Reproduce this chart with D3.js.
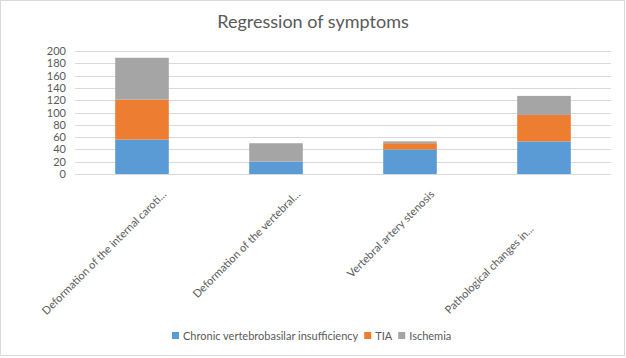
<!DOCTYPE html>
<html>
<head>
<meta charset="utf-8">
<script src="https://cdn.jsdelivr.net/npm/d3@7"></script>
<style>
  body { margin: 0; background: #fff; }
  text { font-family: "Lato", "Liberation Sans", sans-serif; fill: #595959; }
</style>
</head>
<body>
<div id="chart"></div>
<script>
// data
const categories = [
  "Deformation of the internal caroti...",
  "Deformation of the vertebral...",
  "Vertebral artery stenosis",
  "Pathological changes in..."
];
const seriesNames = ["Chronic vertebrobasilar insufficiency", "TIA", "Ischemia"];
const chronic = [56, 20, 40, 53];
const tia = [65, 0, 10, 43];
const ischemia = [68, 30, 3, 31];
const yTicks = [0, 20, 40, 60, 80, 100, 120, 140, 160, 180, 200];
const colors = ["#5b9bd5", "#ed7d31", "#a5a5a5"];

const W = 626, H = 358;
const margin = {top: 51, right: 15, bottom: 184, left: 75},
  width = 611 - margin.left,
  height = 174 - margin.top;

const root = d3.select("#chart")
  .append("svg")
  .attr("width", W)
  .attr("height", H);

// chart border
root.append("rect")
  .attr("x", 0.5).attr("y", 0.5)
  .attr("width", 624).attr("height", 355)
  .attr("fill", "#fff")
  .attr("stroke", "#d9d9d9");

root.append("text")
  .attr("x", 313).attr("y", 28)
  .attr("text-anchor", "middle")
  .style("font-size", "18px")
  .text("Regression of symptoms");

const svg = root.append("g")
  .attr("transform", `translate(${margin.left}, ${margin.top})`);

const table = categories.map((c, i) => ({cat: c, s0: chronic[i], s1: tia[i], s2: ischemia[i]}));
const stacked = d3.stack().keys(["s0", "s1", "s2"])(table);

const x = d3.scaleBand()
  .domain(categories)
  .range([0, width])
  .paddingInner(0.6)
  .paddingOuter(0.3);

const y = d3.scaleLinear()
  .domain([0, 200])
  .range([height, 0]);

// gridlines
svg.append("g")
  .selectAll("line")
  .data(yTicks)
  .join("line")
  .attr("x1", 0).attr("x2", width)
  .attr("y1", d => Math.round(y(d)) + 0.5)
  .attr("y2", d => Math.round(y(d)) + 0.5)
  .attr("stroke", "#d9d9d9");

// y axis labels
const yAxis = svg.append("g")
  .call(d3.axisLeft(y).tickValues(yTicks).tickSize(0).tickPadding(9));
yAxis.select(".domain").remove();
yAxis.selectAll("text")
  .style("font-size", "11px")
  .style("font-family", "Lato, 'Liberation Sans', sans-serif")
  .attr("fill", "#595959");

// bars
svg.append("g")
  .selectAll("g")
  .data(stacked)
  .join("g")
  .attr("fill", (d, i) => colors[i])
  .selectAll("rect")
  .data(d => d)
  .join("rect")
  .attr("x", d => x(d.data.cat))
  .attr("y", d => y(d[1]))
  .attr("height", d => y(d[0]) - y(d[1]))
  .attr("width", x.bandwidth());

// category labels, rotated
svg.append("g")
  .selectAll("text")
  .data(categories)
  .join("text")
  .attr("text-anchor", "end")
  .attr("transform", d => `translate(${x(d) + x.bandwidth() / 2 + 25}, ${height + 21}) rotate(-45)`)
  .attr("dx", (d, i) => i === 3 ? -49 : 0)
  .style("font-size", "11px")
  .text(d => d);

// legend
const legend = root.append("g")
  .attr("transform", "translate(172, 336)");
let lx = 0;
seriesNames.forEach((name, i) => {
  legend.append("rect")
    .attr("x", lx).attr("y", -4)
    .attr("width", 7).attr("height", 7)
    .attr("fill", colors[i]);
  const t = legend.append("text")
    .attr("x", lx + 11).attr("y", 3.5)
    .style("font-size", "11px")
    .text(name);
  lx += 11 + t.node().getComputedTextLength() + 6;
});
</script>
</body>
</html>
